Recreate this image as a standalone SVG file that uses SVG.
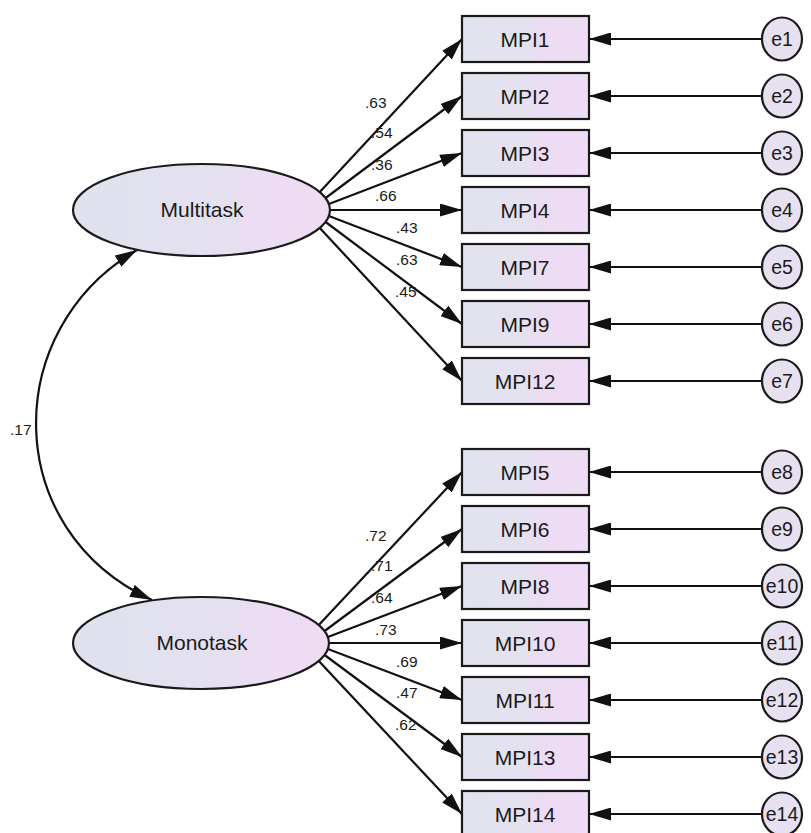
<svg xmlns="http://www.w3.org/2000/svg" width="811" height="833" viewBox="0 0 811 833">
  <defs>
    <linearGradient id="fillBox" x1="0" y1="0" x2="1" y2="0">
      <stop offset="0" stop-color="#e1e3ee"/>
      <stop offset="0.5" stop-color="#e5e1f0"/>
      <stop offset="0.6" stop-color="#ecdcf3"/>
      <stop offset="1" stop-color="#efdcf5"/>
    </linearGradient>
    <linearGradient id="fillLatent" x1="0" y1="0" x2="1" y2="0">
      <stop offset="0" stop-color="#dfe2ee"/>
      <stop offset="0.62" stop-color="#e5e0f0"/>
      <stop offset="0.68" stop-color="#ecdcf3"/>
      <stop offset="1" stop-color="#efdcf4"/>
    </linearGradient>
    <marker id="ah" viewBox="0 0 22 13" refX="22" refY="6.5" markerWidth="22" markerHeight="13" markerUnits="userSpaceOnUse" orient="auto-start-reverse">
      <path d="M0,0 L22,6.5 L0,13 Z" fill="#111"/>
    </marker>
    <style>
      .box { fill: url(#fillBox); stroke: #1a1a1a; stroke-width: 2.2; }
      .latent { fill: url(#fillLatent); stroke: #1a1a1a; stroke-width: 2.2; }
      .err { fill: #e7e0f0; stroke: #1a1a1a; stroke-width: 2.2; }
      .path { fill: none; stroke: #111; stroke-width: 2.2; marker-end: url(#ah); }
      .cov { fill: none; stroke: #111; stroke-width: 2.2; marker-start: url(#ah); marker-end: url(#ah); }
      text { font-family: "Liberation Sans", Arial, sans-serif; fill: #1a1a1a; }
      .lbl { font-size: 21px; text-anchor: middle; }
      .elbl { font-size: 19.5px; text-anchor: middle; }
      .coef { font-size: 15.5px; }
    </style>
  </defs>

  <rect width="811" height="833" fill="#ffffff"/>

  <!-- connectors: loadings, error paths, covariance -->
  <g id="connectors">
    <!-- Multitask loadings -->
    <line class="path" x1="319.8" y1="192" x2="462" y2="39"/>
    <line class="path" x1="325.6" y1="198" x2="462" y2="96"/>
    <line class="path" x1="328.9" y1="204" x2="462" y2="153"/>
    <line class="path" x1="330" y1="210" x2="462" y2="210"/>
    <line class="path" x1="328.9" y1="216" x2="462" y2="267"/>
    <line class="path" x1="325.6" y1="222" x2="462" y2="324"/>
    <line class="path" x1="319.8" y1="228" x2="462" y2="381"/>
    <!-- Monotask loadings -->
    <line class="path" x1="318.8" y1="625" x2="462" y2="472"/>
    <line class="path" x1="324.6" y1="631" x2="462" y2="529"/>
    <line class="path" x1="327.9" y1="637" x2="462" y2="586"/>
    <line class="path" x1="329" y1="643" x2="462" y2="643"/>
    <line class="path" x1="327.9" y1="649" x2="462" y2="700"/>
    <line class="path" x1="324.6" y1="655" x2="462" y2="757"/>
    <line class="path" x1="318.8" y1="661" x2="462" y2="814"/>
    <!-- error terms -->
    <line class="path" x1="762" y1="39" x2="589" y2="39"/>
    <line class="path" x1="762" y1="96" x2="589" y2="96"/>
    <line class="path" x1="762" y1="153" x2="589" y2="153"/>
    <line class="path" x1="762" y1="210" x2="589" y2="210"/>
    <line class="path" x1="762" y1="267" x2="589" y2="267"/>
    <line class="path" x1="762" y1="324" x2="589" y2="324"/>
    <line class="path" x1="762" y1="381" x2="589" y2="381"/>
    <line class="path" x1="762" y1="472" x2="589" y2="472"/>
    <line class="path" x1="762" y1="529" x2="589" y2="529"/>
    <line class="path" x1="762" y1="586" x2="589" y2="586"/>
    <line class="path" x1="762" y1="643" x2="589" y2="643"/>
    <line class="path" x1="762" y1="700" x2="589" y2="700"/>
    <line class="path" x1="762" y1="757" x2="589" y2="757"/>
    <line class="path" x1="762" y1="814" x2="589" y2="814"/>
    <!-- factor covariance -->
    <path class="cov" d="M137,250 C0,330 0,530 152,600"/>
  </g>

  <!-- coefficient labels -->
  <g id="coefficients">
    <text class="coef" x="10" y="435">.17</text>
    <text class="coef" x="365" y="108">.63</text>
    <text class="coef" x="371" y="138">.54</text>
    <text class="coef" x="371" y="170">.36</text>
    <text class="coef" x="375" y="201">.66</text>
    <text class="coef" x="396" y="233">.43</text>
    <text class="coef" x="396" y="265">.63</text>
    <text class="coef" x="395" y="297">.45</text>
    <text class="coef" x="365" y="541">.72</text>
    <text class="coef" x="371" y="571">.71</text>
    <text class="coef" x="371" y="603">.64</text>
    <text class="coef" x="375" y="635">.73</text>
    <text class="coef" x="396" y="667">.69</text>
    <text class="coef" x="396" y="698">.47</text>
    <text class="coef" x="395" y="730">.62</text>
  </g>

  <!-- latent factors -->
  <g id="multitask">
    <ellipse class="latent" cx="201.5" cy="210" rx="128.5" ry="46"/>
    <text class="lbl" x="202" y="217">Multitask</text>
  </g>
  <g id="monotask">
    <ellipse class="latent" cx="201" cy="643" rx="128" ry="46"/>
    <text class="lbl" x="202" y="650">Monotask</text>
  </g>

  <!-- observed indicators -->
  <g id="mpi1"><rect class="box" x="462" y="16" width="127" height="46"/><text class="lbl" x="525" y="46.5">MPI1</text></g>
  <g id="mpi2"><rect class="box" x="462" y="73" width="127" height="46"/><text class="lbl" x="525" y="103.5">MPI2</text></g>
  <g id="mpi3"><rect class="box" x="462" y="130" width="127" height="46"/><text class="lbl" x="525" y="160.5">MPI3</text></g>
  <g id="mpi4"><rect class="box" x="462" y="187" width="127" height="46"/><text class="lbl" x="525" y="217.5">MPI4</text></g>
  <g id="mpi7"><rect class="box" x="462" y="244" width="127" height="46"/><text class="lbl" x="525" y="274.5">MPI7</text></g>
  <g id="mpi9"><rect class="box" x="462" y="301" width="127" height="46"/><text class="lbl" x="525" y="331.5">MPI9</text></g>
  <g id="mpi12"><rect class="box" x="462" y="358" width="127" height="46"/><text class="lbl" x="525" y="388.5">MPI12</text></g>
  <g id="mpi5"><rect class="box" x="462" y="449" width="127" height="46"/><text class="lbl" x="525" y="479.5">MPI5</text></g>
  <g id="mpi6"><rect class="box" x="462" y="506" width="127" height="46"/><text class="lbl" x="525" y="536.5">MPI6</text></g>
  <g id="mpi8"><rect class="box" x="462" y="563" width="127" height="46"/><text class="lbl" x="525" y="593.5">MPI8</text></g>
  <g id="mpi10"><rect class="box" x="462" y="620" width="127" height="46"/><text class="lbl" x="525" y="650.5">MPI10</text></g>
  <g id="mpi11"><rect class="box" x="462" y="677" width="127" height="46"/><text class="lbl" x="525" y="707.5">MPI11</text></g>
  <g id="mpi13"><rect class="box" x="462" y="734" width="127" height="46"/><text class="lbl" x="525" y="764.5">MPI13</text></g>
  <g id="mpi14"><rect class="box" x="462" y="791" width="127" height="46"/><text class="lbl" x="525" y="821.5">MPI14</text></g>

  <!-- error terms -->
  <g id="e1"><ellipse class="err" cx="782" cy="39" rx="20" ry="21.5"/><text class="elbl" x="782" y="46">e1</text></g>
  <g id="e2"><ellipse class="err" cx="782" cy="96" rx="20" ry="21.5"/><text class="elbl" x="782" y="103">e2</text></g>
  <g id="e3"><ellipse class="err" cx="782" cy="153" rx="20" ry="21.5"/><text class="elbl" x="782" y="160">e3</text></g>
  <g id="e4"><ellipse class="err" cx="782" cy="210" rx="20" ry="21.5"/><text class="elbl" x="782" y="217">e4</text></g>
  <g id="e5"><ellipse class="err" cx="782" cy="267" rx="20" ry="21.5"/><text class="elbl" x="782" y="274">e5</text></g>
  <g id="e6"><ellipse class="err" cx="782" cy="324" rx="20" ry="21.5"/><text class="elbl" x="782" y="331">e6</text></g>
  <g id="e7"><ellipse class="err" cx="782" cy="381" rx="20" ry="21.5"/><text class="elbl" x="782" y="388">e7</text></g>
  <g id="e8"><ellipse class="err" cx="782" cy="472" rx="20" ry="21.5"/><text class="elbl" x="782" y="479">e8</text></g>
  <g id="e9"><ellipse class="err" cx="782" cy="529" rx="20" ry="21.5"/><text class="elbl" x="782" y="536">e9</text></g>
  <g id="e10"><ellipse class="err" cx="782" cy="586" rx="20" ry="21.5"/><text class="elbl" x="782" y="593">e10</text></g>
  <g id="e11"><ellipse class="err" cx="782" cy="643" rx="20" ry="21.5"/><text class="elbl" x="782" y="650">e11</text></g>
  <g id="e12"><ellipse class="err" cx="782" cy="700" rx="20" ry="21.5"/><text class="elbl" x="782" y="707">e12</text></g>
  <g id="e13"><ellipse class="err" cx="782" cy="757" rx="20" ry="21.5"/><text class="elbl" x="782" y="764">e13</text></g>
  <g id="e14"><ellipse class="err" cx="782" cy="814" rx="20" ry="21.5"/><text class="elbl" x="782" y="821">e14</text></g>
</svg>
